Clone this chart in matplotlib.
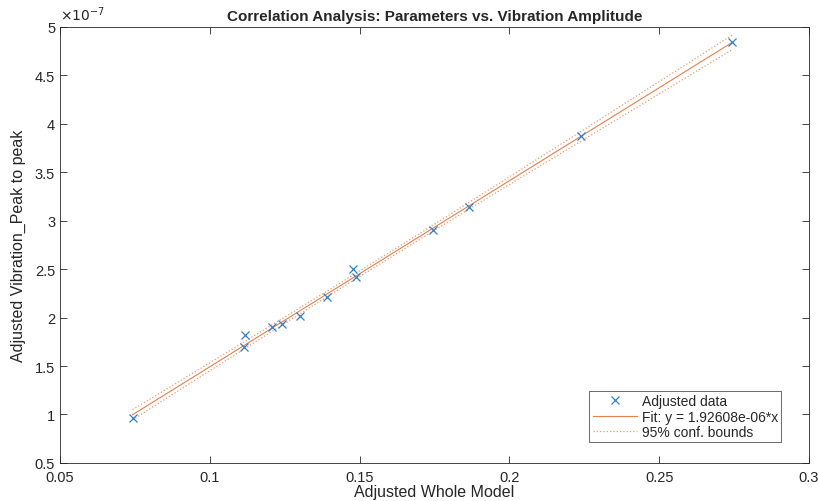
import numpy as np
import matplotlib
matplotlib.use("Agg")
import matplotlib.pyplot as plt
from matplotlib.ticker import FuncFormatter

# data (x: whole model, y: vibration peak to peak)
whole_model = [0.0742, 0.1115, 0.1119, 0.1209, 0.1240, 0.1300, 0.1390,
               0.1479, 0.1488, 0.1745, 0.1865, 0.2240, 0.2743]
vib_p2p = [0.966e-7, 1.693e-7, 1.823e-7, 1.899e-7, 1.933e-7, 2.019e-7, 2.208e-7,
           2.500e-7, 2.414e-7, 2.900e-7, 3.140e-7, 3.870e-7, 4.837e-7]
fit_label = "Fit: y = 1.92608e-06*x"
x_ticks = [0.05, 0.1, 0.15, 0.2, 0.25, 0.3]
y_ticks = [0.5, 1, 1.5, 2, 2.5, 3, 3.5, 4, 4.5, 5]

plt.rcParams['font.family'] = ['Liberation Sans', 'DejaVu Sans']

x = np.array(whole_model)
y = np.array(vib_p2p)

# linear fit + 95% confidence bounds of the fitted line
p = np.polyfit(x, y, 1)
n = len(x)
res = y - np.polyval(p, x)
s = np.sqrt(np.sum(res**2) / (n - 2))
t = 2.201  # t(0.975, 11)
xf = np.linspace(x.min(), x.max(), 200)
yf = np.polyval(p, xf)
half = t * s * np.sqrt(1/n + (xf - x.mean())**2 / np.sum((x - x.mean())**2))

blue = (0.2, 0.5, 0.78)
orange = (0.9, 0.5, 0.3)
grey = (0.15, 0.15, 0.15)

fig = plt.figure(figsize=(8.19, 5.02), dpi=100)
ax = fig.add_axes([0.0733, 0.0757, 0.9145, 0.8695])

ax.plot(x, y, 'x', color=blue, markersize=6, mew=0.9, label="Adjusted data", zorder=3)
ax.plot(xf, yf, '-', color=orange, lw=0.8, label=fit_label)
ax.plot(xf, yf + half, ':', color=orange, lw=0.9, alpha=0.8, label="95% conf. bounds")
ax.plot(xf, yf - half, ':', color=orange, lw=0.9, alpha=0.8)

ax.set_xlim(0.05, 0.3)
ax.set_ylim(0.5e-7, 5e-7)
ax.set_xticks(x_ticks)
ax.set_yticks([v * 1e-7 for v in y_ticks])
ax.xaxis.set_major_formatter(FuncFormatter(lambda v, pos: "%g" % round(v, 4)))
ax.yaxis.set_major_formatter(FuncFormatter(lambda v, pos: "%g" % round(v / 1e-7, 4)))
ax.tick_params(direction='in', top=True, right=True, length=5, width=0.6,
               colors=grey, labelsize=10.5, labelcolor=grey)
ax.tick_params(axis='x', pad=5)
for sp in ax.spines.values():
    sp.set_color(grey)
    sp.set_linewidth(0.6)

ax.text(0.0, 1.008, r"$\times10^{-7}$", transform=ax.transAxes, fontsize=10,
        color=grey, ha='left', va='bottom')
ax.set_title("Correlation Analysis: Parameters vs. Vibration Amplitude",
             fontsize=11, fontweight='bold', color=grey, pad=5)
ax.set_xlabel("Adjusted Whole Model", fontsize=11.5, color=grey, labelpad=0)
ax.set_ylabel("Adjusted Vibration_Peak to peak", fontsize=11.5, color=grey, labelpad=6)

leg = ax.legend(loc='lower right', bbox_to_anchor=(0.963, 0.047), fontsize=10,
                frameon=True, fancybox=False, handlelength=3.2, handletextpad=0.3,
                borderpad=0.25, labelspacing=0.1, borderaxespad=0)
leg.get_frame().set_edgecolor(grey)
leg.get_frame().set_linewidth(0.6)
for txt in leg.get_texts():
    txt.set_color(grey)

fig.savefig("out.png", dpi=100)
